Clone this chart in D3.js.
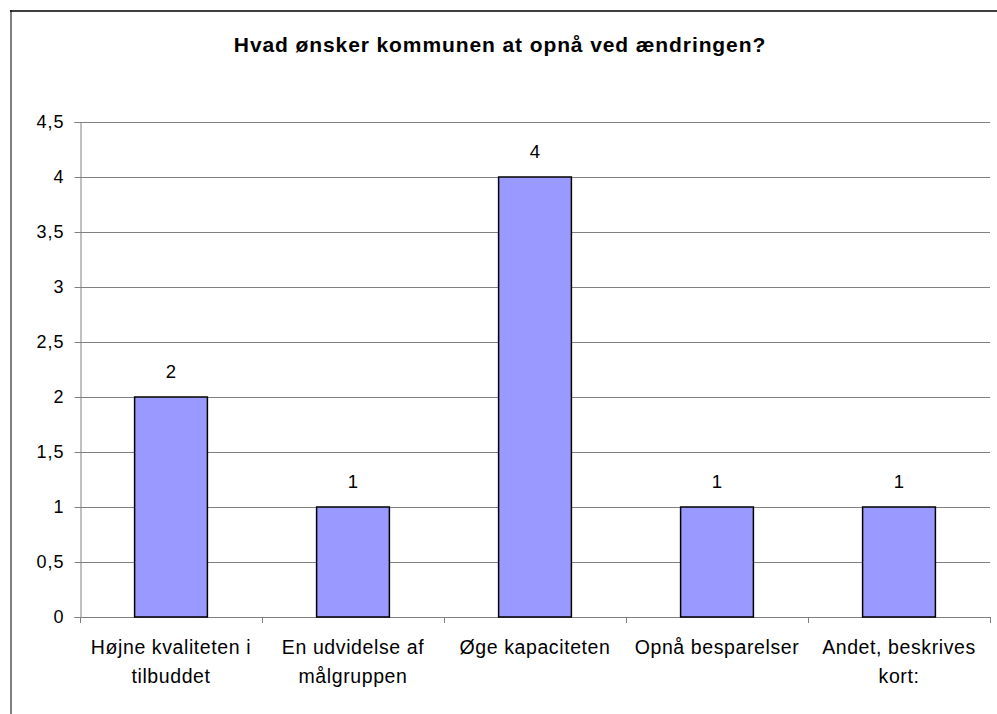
<!DOCTYPE html>
<html>
<head>
<meta charset="utf-8">
<script src="https://cdn.jsdelivr.net/npm/d3@7"></script>
<style>
  body { margin: 0; background: #fff; }
  text { font-family: "Liberation Sans", Arial, sans-serif; fill: #000; }
</style>
</head>
<body>
<div id="chart"></div>
<script>
// chart data
var title = "Hvad ønsker kommunen at opnå ved ændringen?";
var categories = [
  ["Højne kvaliteten i", "tilbuddet"],
  ["En udvidelse af", "målgruppen"],
  ["Øge kapaciteten"],
  ["Opnå besparelser"],
  ["Andet, beskrives", "kort:"]
];
var values = [2, 1, 4, 1, 1];
var yTicks = [0, 0.5, 1, 1.5, 2, 2.5, 3, 3.5, 4, 4.5];

var W = 997, H = 714;
var margin = {top: 122, right: 7, bottom: 97, left: 80},
    width = W - margin.left - margin.right,
    height = H - margin.top - margin.bottom;

var svg = d3.select("#chart").append("svg")
    .attr("width", W)
    .attr("height", H);

// outer frame (only top and left visible)
svg.append("line")
    .attr("x1", 10).attr("x2", W).attr("y1", 11).attr("y2", 11)
    .attr("stroke", "#404040").attr("stroke-width", 2);
svg.append("line")
    .attr("x1", 11).attr("x2", 11).attr("y1", 10).attr("y2", H)
    .attr("stroke", "#000").attr("stroke-width", 1);

svg.append("text")
    .attr("x", 500).attr("y", 52)
    .attr("text-anchor", "middle")
    .style("font-weight", "bold")
    .style("font-size", "21px")
    .style("letter-spacing", "0.9px")
    .text(title);

var g = svg.append("g")
    .attr("transform", "translate(" + margin.left + "," + margin.top + ")");

var x = d3.scaleBand()
    .domain(d3.range(categories.length))
    .range([0, width])
    .paddingInner(0.6)
    .paddingOuter(0.3);

var y = d3.scaleLinear().domain([0, 4.5]).range([height, 0]);

var fmt = function(d) { return String(d).replace(".", ","); };

// gridlines
g.selectAll("line.grid")
    .data(yTicks.filter(function(d) { return d > 0; }))
    .enter().append("line")
    .attr("class", "grid")
    .attr("x1", 0).attr("x2", width)
    .attr("y1", function(d) { return Math.round(y(d)) + 0.5; })
    .attr("y2", function(d) { return Math.round(y(d)) + 0.5; })
    .attr("stroke", "#808080");

// y axis
var yAxis = g.append("g")
    .attr("transform", "translate(0.5,0)")
    .call(d3.axisLeft(y).tickValues(yTicks).tickFormat(fmt).tickSize(6).tickPadding(10));
yAxis.select(".domain").attr("stroke", "#808080");
yAxis.selectAll(".tick line").attr("stroke", "#808080");
yAxis.selectAll(".tick text")
    .style("font-size", "18px")
    .style("letter-spacing", "1px")
    .style("font-family", "Liberation Sans, Arial, sans-serif")
    .attr("fill", "#000");

// x axis line and boundary ticks
var step = x.step();
var edges = d3.range(categories.length + 1).map(function(i) {
  return x.range()[0] + i * step;
});
g.append("line")
    .attr("x1", 0).attr("x2", width)
    .attr("y1", height + 0.5).attr("y2", height + 0.5)
    .attr("stroke", "#808080");
g.selectAll("line.xtick")
    .data(edges)
    .enter().append("line")
    .attr("class", "xtick")
    .attr("x1", function(d) { return Math.round(d) + 0.5; })
    .attr("x2", function(d) { return Math.round(d) + 0.5; })
    .attr("y1", height).attr("y2", height + 6)
    .attr("stroke", "#808080");

// bars
g.selectAll("rect.bar")
    .data(values)
    .enter().append("rect")
    .attr("class", "bar")
    .attr("x", function(d, i) { return x(i); })
    .attr("y", function(d) { return y(d); })
    .attr("width", x.bandwidth())
    .attr("height", function(d) { return height - y(d); })
    .attr("fill", "#9999FF")
    .attr("stroke", "#000")
    .attr("stroke-width", 1.5);

// value labels
g.selectAll("text.val")
    .data(values)
    .enter().append("text")
    .attr("class", "val")
    .attr("x", function(d, i) { return x(i) + x.bandwidth() / 2; })
    .attr("y", function(d) { return y(d) - 19; })
    .attr("text-anchor", "middle")
    .style("font-size", "18.5px")
    .text(function(d) { return d; });

// category labels
var cat = g.selectAll("text.cat")
    .data(categories)
    .enter().append("text")
    .attr("class", "cat")
    .attr("text-anchor", "middle")
    .attr("transform", function(d, i) {
      return "translate(" + (x(i) + x.bandwidth() / 2) + "," + (height + 37) + ")";
    })
    .style("font-size", "19.5px")
    .style("letter-spacing", "0.6px");
cat.selectAll("tspan")
    .data(function(d) { return d; })
    .enter().append("tspan")
    .attr("x", 0)
    .attr("y", function(d, j) { return j * 29; })
    .text(function(d) { return d; });
</script>
</body>
</html>
